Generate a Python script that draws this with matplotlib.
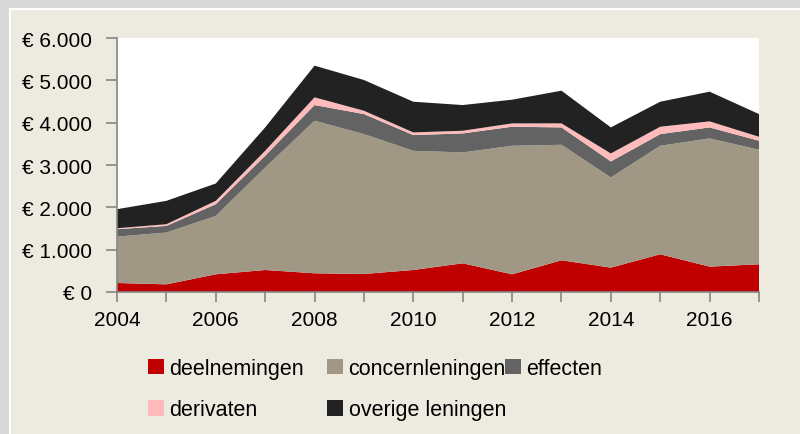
import matplotlib.pyplot as plt
from matplotlib.patches import Rectangle, Patch
from matplotlib.ticker import FuncFormatter

plt.rcParams['font.family'] = ['Liberation Sans', 'DejaVu Sans']

years = list(range(2004, 2018))
deelnemingen = [213, 181, 418, 520, 442, 426, 520, 678, 418, 749, 576, 891, 599, 655]
concernleningen = [1096, 1223, 1380, 2421, 3604, 3304, 2816, 2619, 3036, 2729, 2129, 2563, 3029, 2705]
effecten = [174, 157, 276, 277, 370, 474, 371, 449, 450, 410, 379, 276, 260, 213]
derivaten = [23, 40, 79, 118, 182, 78, 63, 63, 79, 95, 189, 174, 142, 94]
overige_leningen = [450, 552, 410, 552, 749, 726, 725, 607, 560, 772, 615, 591, 702, 536]

labels = ["deelnemingen", "concernleningen", "effecten", "derivaten", "overige leningen"]
colors = ["#C00000", "#A09885", "#636363", "#FFBBBB", "#222222"]

fig = plt.figure(figsize=(8, 4.35), dpi=100)
fig.patch.set_facecolor("#D9D9D9")
# white line and beige panel
fig.patches.append(Rectangle((9 / 800, 0), 1, 1 - 9 / 435, transform=fig.transFigure,
                             facecolor="white", edgecolor="none", zorder=-2))
fig.patches.append(Rectangle((11 / 800, 0), 1, 1 - 11 / 435, transform=fig.transFigure,
                             facecolor="#EDEBE0", edgecolor="none", zorder=-1))

ax = fig.add_axes([117 / 800, 1 - 293 / 435, (759 - 117) / 800, (293 - 39) / 435])
ax.set_facecolor("white")
ax.stackplot(years, deelnemingen, concernleningen, effecten, derivaten, overige_leningen,
             colors=colors, linewidth=0)

ax.set_xlim(2004, 2017)
ax.set_ylim(0, 6000)
ax.set_xticks(years)
ax.set_xticklabels([str(y) if y % 2 == 0 else "" for y in years])
ax.set_yticks(range(0, 6001, 1000))
ax.yaxis.set_major_formatter(FuncFormatter(lambda v, p: "€ " + f"{int(v):,}".replace(",", ".")))

for s in ["top", "right"]:
    ax.spines[s].set_visible(False)
for s in ["left", "bottom"]:
    ax.spines[s].set_color("#868686")
    ax.spines[s].set_linewidth(1.2)
ax.tick_params(axis="both", colors="#868686", width=1.2, labelsize=15,
               labelcolor="black")
ax.tick_params(axis="y", length=8, pad=10)
ax.tick_params(axis="x", length=7, pad=6)

# legend: three equal-width columns, filled row by row
handles = [Patch(facecolor=c, edgecolor="none") for c in colors]
columns = [[0, 3], [1, 4], [2]]
col_x = [148, 327, 505]
for xpos, idx in zip(col_x, columns):
    leg = fig.legend([handles[i] for i in idx], [labels[i] for i in idx],
                     loc="upper left", bbox_to_anchor=(xpos / 800, 1 - 359 / 435),
                     frameon=False, fontsize=15.5, handlelength=0.75, handleheight=0.75,
                     handletextpad=0.25, labelspacing=0.95, borderpad=0, borderaxespad=0)

fig.savefig("out.png", dpi=100, facecolor=fig.get_facecolor())
